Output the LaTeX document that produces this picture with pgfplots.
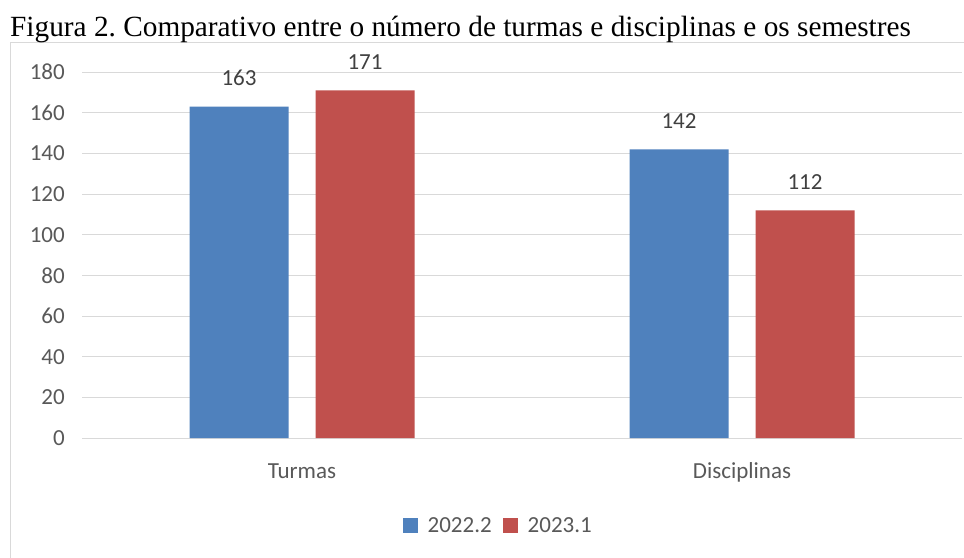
\documentclass[border=0pt]{standalone}
\usepackage{fontspec}
\usepackage{pgfplots}
\pgfplotsset{compat=1.18}
\newfontfamily\carlito{Carlito}
\newfontfamily\libserif{Liberation Serif}
\definecolor{blue1}{HTML}{4F81BD}
\definecolor{red1}{HTML}{C0504D}
\definecolor{gridgray}{HTML}{D9D9D9}
\definecolor{labelgray}{HTML}{595959}
\definecolor{datagray}{HTML}{404040}
\frenchspacing
\begin{document}
\begin{tikzpicture}
\useasboundingbox (0,0) rectangle (964bp,558bp);
\fill[white] (0,0) rectangle (964bp,558bp);
\draw[draw=gridgray, line width=1bp] (10bp,0bp) -- (10bp,515.3bp) -- (964bp,515.3bp);
\node[anchor=base west, inner sep=0pt, font=\libserif\fontsize{29.3bp}{35bp}\selectfont] at (10bp,521bp) {Figura 2. Comparativo entre o número de turmas e disciplinas e os semestres};
\begin{axis}[
  at={(82bp,120bp)}, anchor=south west,
  scale only axis, width=880bp, height=366bp,
  ymin=0, ymax=180, xmin=-0.5, xmax=1.5,
  ytick={0,20,...,180},
  xtick={0,1}, xticklabels={Turmas,Disciplinas},
  ymajorgrids, grid style={draw=gridgray, line width=0.75bp},
  axis x line=bottom, axis y line=left,
  y axis line style={draw=none},
  x axis line style={draw=gridgray, line width=0.75bp, -},
  major tick length=0pt, tick style={draw=none},
  /pgf/number format/assume math mode=true,
  tick label style={font=\carlito\fontsize{23bp}{27bp}\selectfont, text=labelgray},
  yticklabel style={anchor=east, inner sep=0pt, xshift=-17bp},
  xticklabel style={anchor=base, inner sep=0pt, yshift=-40bp},
  ybar=27bp, bar width=99bp,
  clip=false,
  nodes near coords,
  nodes near coords style={font=\carlito\fontsize{23bp}{27bp}\selectfont, text=datagray, anchor=base, inner sep=0pt, yshift=21bp},
  legend columns=-1,
  legend style={at={(0.473,-0.239)}, anchor=center, draw=none, fill=none,
    font=\carlito\fontsize{23bp}{27bp}\selectfont, text=labelgray,
    /tikz/every odd column/.append style={column sep=8bp},
    /tikz/every even column/.append style={column sep=9bp}},
  legend image code/.code={\fill[#1,draw=none] (0bp,-7.5bp) rectangle (15bp,7.5bp);},
]
\addplot[fill=blue1, draw=none] coordinates {(0,163) (1,142)};
\addplot[fill=red1, draw=none] coordinates {(0,171) (1,112)};
\legend{2022.2,2023.1}
\end{axis}
\end{tikzpicture}
\end{document}
